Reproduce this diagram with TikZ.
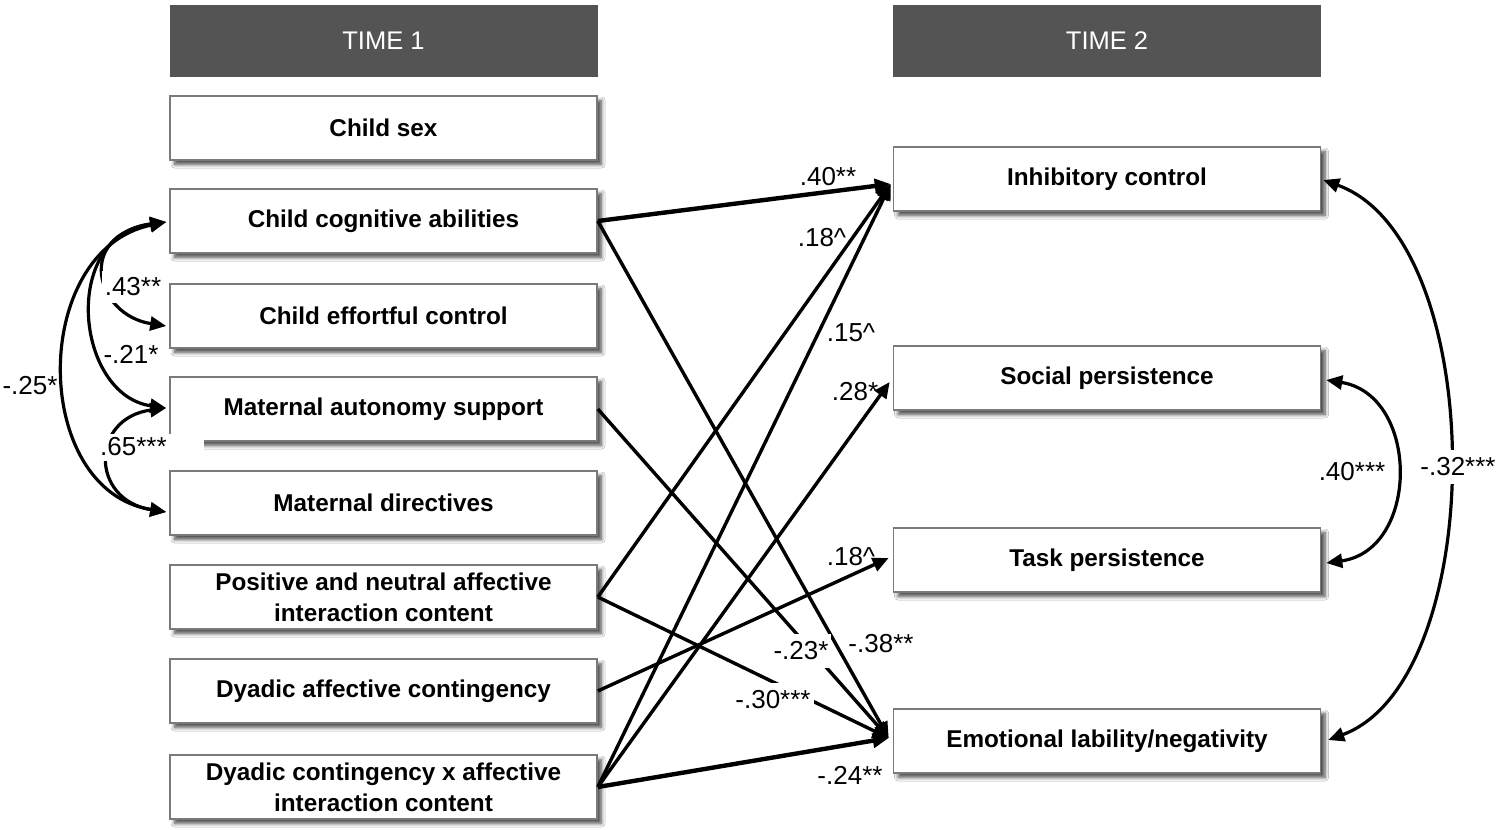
\documentclass[tikz,border=0pt]{standalone}
\usepackage{fontspec}
\setmainfont{Liberation Sans}
\usetikzlibrary{arrows.meta,shadows.blur}
\begin{document}
\begin{tikzpicture}[x=1pt,y=-1pt,
  box/.style={draw=black!52, line width=1.6pt, fill=white, minimum width=427pt, minimum height=64pt,
    inner sep=0pt, align=center, font=\fontsize{24.3}{31}\selectfont\bfseries,
    blur shadow={shadow xshift=4.5pt, shadow yshift=-4.5pt, shadow blur radius=3.5pt, shadow blur steps=8, shadow opacity=70}},
  head/.style={fill=black!67, minimum width=428pt, minimum height=72pt, inner sep=0pt, text=white,
    font=\fontsize{25.5}{30}\selectfont},
  lab/.style={font=\fontsize{26}{30}\selectfont, inner sep=1pt},
  wlab/.style={lab, fill=white, inner xsep=3pt, inner ysep=8pt},
  tip/.style={-{Triangle[length=16pt,width=14pt]}},
  arr/.style={line width=3.4pt, tip},
  tarr/.style={line width=4.4pt, tip},
  darr/.style={line width=3.2pt, {Triangle[length=16pt,width=14pt]}-{Triangle[length=16pt,width=14pt]}},
]
\useasboundingbox (0,0) rectangle (1497,830);
\fill[white] (0,0) rectangle (1497,830);

% headers
\node[head] (t1) at (383.5,41) {TIME 1};
\node[head] (t2) at (1107,41) {TIME 2};

% left boxes
\node[box] (cs)  at (383.5,128) {Child sex};
\node[box] (cca) at (383.5,221) {Child cognitive abilities};
\node[box] (cec) at (383.5,316) {Child effortful control};
\node[box] (mas) at (383.5,409) {Maternal autonomy support};
\node[box] (md)  at (383.5,503) {Maternal directives};
\node[box] (pn)  at (383.5,597) {Positive and neutral affective\\interaction content};
\node[box] (dac) at (383.5,691) {Dyadic affective contingency};
\node[box] (dcx) at (383.5,787) {Dyadic contingency x affective\\interaction content};

% right boxes
\node[box] (ic) at (1107,179) {Inhibitory control};
\node[box] (sp) at (1107,378) {Social persistence};
\node[box] (tp) at (1107,560) {Task persistence};
\node[box] (el) at (1107,741) {Emotional lability/negativity};

% paths
\draw[tarr] (cca.east) -- ([shift={(-2,5)}]ic.west);
\draw[arr]  (cca.east) -- ([shift={(-4,-3)}]el.west);
\draw[arr]  (mas.east) -- ([shift={(-4,-3)}]el.west);
\draw[arr]  (pn.east)  -- ([shift={(-2,5)}]ic.west);
\draw[arr]  (pn.east)  -- ([shift={(-4,-3)}]el.west);
\draw[arr]  (dac.east) -- ([shift={(-4,-2)}]tp.west);
\draw[arr]  (dcx.east) -- ([shift={(-2,5)}]ic.west);
\draw[arr]  (dcx.east) -- ([shift={(-3,4)}]sp.west);
\draw[tarr] (dcx.east) -- ([shift={(-4,-3)}]el.west);

% left covariances
\draw[darr] ([shift={(-3,1)}]cca.west) .. controls (30,250) and (30,490) .. ([shift={(-3,9)}]md.west);
\draw[darr] ([shift={(-3,1)}]cca.west) .. controls (60,235) and (75,395) .. ([shift={(-3,-1)}]mas.west);
\draw[darr] ([shift={(-3,1)}]cca.west) .. controls (75,235) and (95,315) .. ([shift={(-3,10)}]cec.west);
\draw[darr] ([shift={(-3,-1)}]mas.west) .. controls (90,418) and (90,500) .. ([shift={(-3,9)}]md.west);

% right covariances
\draw[darr] ([shift={(5,2)}]sp.east) .. controls (1420,395) and (1420,550) .. ([shift={(5,3)}]tp.east);
\draw[darr] ([shift={(2,1)}]ic.east) .. controls (1490,240) and (1490,680) .. ([shift={(7,-1)}]el.east);

% labels
\node[lab] (l40) at (828,177) {.40**};
\node[lab] (l18a) at (822,238) {.18\textasciicircum};
\node[lab] (l15) at (851,333) {.15\textasciicircum};
\node[lab] (l28) at (855,392) {.28*};
\node[lab] (l18b) at (851,557) {.18\textasciicircum};
\node[wlab] (l23) at (801,651) {-.23*};
\node[lab] (l38) at (881,644) {-.38**};
\node[wlab] (l30) at (773,700) {-.30***};
\node[lab] (l24) at (850,775) {-.24**};

\node[lab] (l25) at (30,386) {-.25*};
\node[wlab, minimum height=32pt, inner ysep=2pt] (l43) at (133,287) {.43**};
\node[lab] (l21) at (131,354) {-.21*};
\node[lab, fill=white, anchor=west, text width=102pt, align=left, minimum height=27pt, inner sep=2pt] (l65) at (98,447) {.65***};

\node[lab] (l40r) at (1352,472) {.40***};
\node[wlab, inner xsep=1pt] (l32) at (1458,467) {-.32***};
\end{tikzpicture}
\end{document}
